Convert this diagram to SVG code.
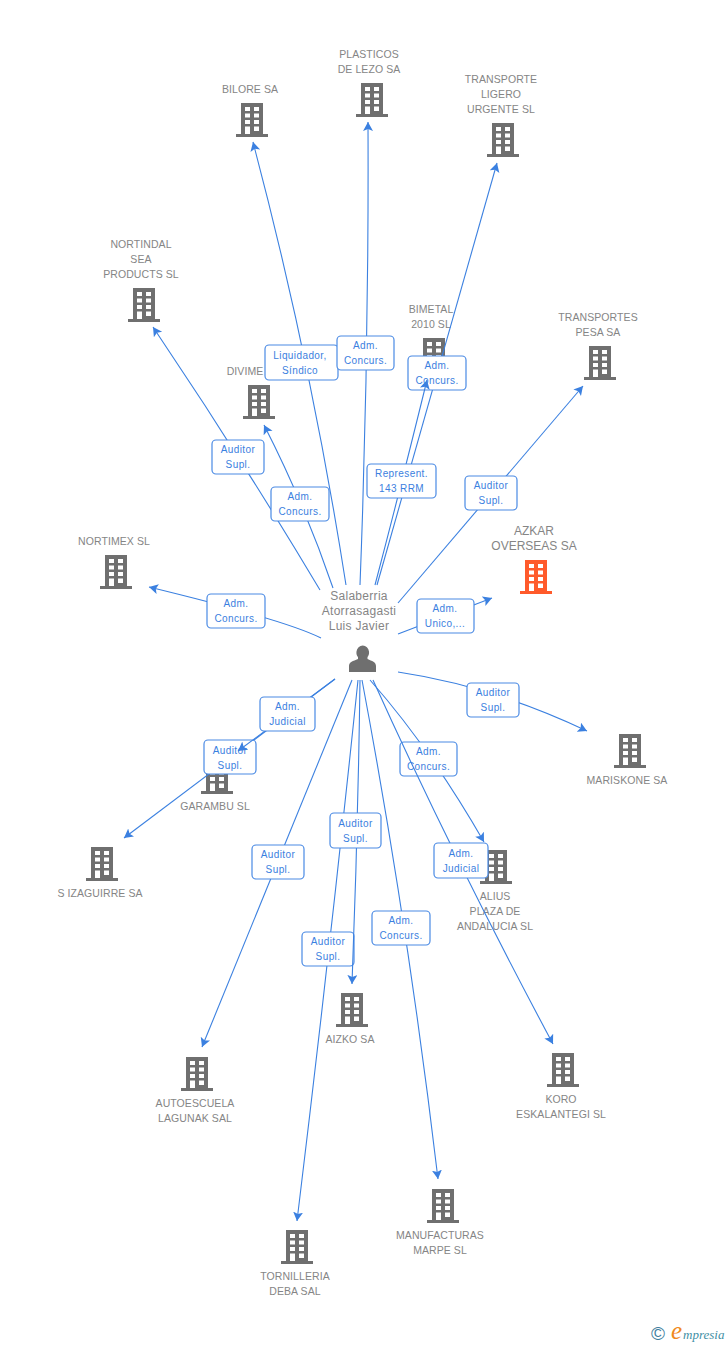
<svg xmlns="http://www.w3.org/2000/svg" xmlns:xlink="http://www.w3.org/1999/xlink" width="728" height="1345" viewBox="0 0 728 1345">
<style>
text{font-family:"Liberation Sans",Arial,sans-serif}
.n{font-size:10.5px;fill:#858585;text-anchor:middle;letter-spacing:.08px}
.a{font-size:12px;fill:#858585;text-anchor:middle}
.p{font-size:12px;fill:#858585;text-anchor:middle;letter-spacing:.3px}
.e{fill:none;stroke:#3b80e0;stroke-width:1.1;marker-end:url(#ah)}
.b{fill:#fff;stroke:#4a8ae4;stroke-width:1.2}
.l{font-size:10px;fill:#3b80e0;text-anchor:middle;letter-spacing:.4px}
</style>
<defs>
<marker id="ah" markerUnits="userSpaceOnUse" markerWidth="12" markerHeight="12" refX="9" refY="5" orient="auto">
<path d="M0 0L9 5L0 10L2 5Z" fill="#3b80e0"/>
</marker>
<g id="bld">
<path d="M-11 0H11V31H16V34H-16V31H-11ZM-7 4V8H-2V4ZM2 4V8H7V4ZM-7 10.500V14.500H-2V10.500ZM2 10.500V14.500H7V10.500ZM-7 17V21H-2V17ZM2 17V21H7V17ZM-7 23.500V31H-2V23.500ZM2 23.500V28H7V23.500Z" fill-rule="evenodd"/>
</g>
</defs>
<rect width="728" height="1345" fill="#fff"/>

<g id="node-bilore" fill="#6f6f6f"><use xlink:href="#bld" x="252" y="103"/><text class="n" x="250" y="93">BILORE SA</text></g>
<g id="node-plasticos" fill="#6f6f6f"><use xlink:href="#bld" x="372" y="83"/><text class="n" x="369" y="58">PLASTICOS</text><text class="n" x="369" y="73">DE LEZO SA</text></g>
<g id="node-transporte" fill="#6f6f6f"><use xlink:href="#bld" x="503" y="123"/><text class="n" x="501" y="83">TRANSPORTE</text><text class="n" x="501" y="98">LIGERO</text><text class="n" x="501" y="113">URGENTE SL</text></g>
<g id="node-nortindal" fill="#6f6f6f"><use xlink:href="#bld" x="144" y="288"/><text class="n" x="141" y="248">NORTINDAL</text><text class="n" x="141" y="263">SEA</text><text class="n" x="141" y="278">PRODUCTS SL</text></g>
<g id="node-divime" fill="#6f6f6f"><use xlink:href="#bld" x="259" y="385"/><text class="n" x="245" y="375">DIVIME</text></g>
<g id="node-bimetal" fill="#6f6f6f"><use xlink:href="#bld" x="434" y="338"/><text class="n" x="431" y="313">BIMETAL</text><text class="n" x="431" y="328">2010 SL</text></g>
<g id="node-pesa" fill="#6f6f6f"><use xlink:href="#bld" x="600" y="346"/><text class="n" x="598" y="321">TRANSPORTES</text><text class="n" x="598" y="336">PESA SA</text></g>
<g id="node-nortimex" fill="#6f6f6f"><use xlink:href="#bld" x="116" y="555"/><text class="n" x="114" y="545">NORTIMEX SL</text></g>
<g id="node-azkar" fill="#ff5a2b"><use xlink:href="#bld" x="536" y="560"/><text class="a" x="534" y="535">AZKAR</text><text class="a" x="534" y="550">OVERSEAS SA</text></g>
<g id="node-mariskone" fill="#6f6f6f"><use xlink:href="#bld" x="630" y="734"/><text class="n" x="627" y="784">MARISKONE SA</text></g>
<g id="node-garambu" fill="#6f6f6f"><use xlink:href="#bld" x="217" y="760"/><text class="n" x="215" y="810">GARAMBU SL</text></g>
<g id="node-izaguirre" fill="#6f6f6f"><use xlink:href="#bld" x="102" y="847"/><text class="n" x="100" y="897">S IZAGUIRRE SA</text></g>
<g id="node-alius" fill="#6f6f6f"><use xlink:href="#bld" x="496" y="850"/><text class="n" x="495" y="900">ALIUS</text><text class="n" x="495" y="915">PLAZA DE</text><text class="n" x="495" y="930">ANDALUCIA SL</text></g>
<g id="node-autoescuela" fill="#6f6f6f"><use xlink:href="#bld" x="197" y="1057"/><text class="n" x="195" y="1107">AUTOESCUELA</text><text class="n" x="195" y="1122">LAGUNAK SAL</text></g>
<g id="node-aizko" fill="#6f6f6f"><use xlink:href="#bld" x="352" y="993"/><text class="n" x="350" y="1043">AIZKO SA</text></g>
<g id="node-koro" fill="#6f6f6f"><use xlink:href="#bld" x="563" y="1053"/><text class="n" x="561" y="1103">KORO</text><text class="n" x="561" y="1118">ESKALANTEGI SL</text></g>
<g id="node-manufacturas" fill="#6f6f6f"><use xlink:href="#bld" x="443" y="1189"/><text class="n" x="440" y="1239">MANUFACTURAS</text><text class="n" x="440" y="1254">MARPE SL</text></g>
<g id="node-tornilleria" fill="#6f6f6f"><use xlink:href="#bld" x="297" y="1230"/><text class="n" x="295" y="1280">TORNILLERIA</text><text class="n" x="295" y="1295">DEBA SAL</text></g>

<g id="node-person">
<text class="p" x="359" y="600">Salaberria</text><text class="p" x="359" y="615">Atorrasagasti</text><text class="p" x="359" y="630">Luis Javier</text>
<path d="M349 672V666C349 662 353 661 358 659V657C356 655 356.500 652 356.500 651.500A6.300 6.800 0 0 1 369 651.500C369 652 369.500 655 367.500 657V659C372 661 376 662 376 666V672Z" fill="#6f6f6f"/>
</g>

<g id="connectors">
<g><path class="e" d="M346 585Q311 361 253 142"/><rect class="b" x="265" y="345" width="73" height="35" rx="4"/><text class="l" x="300" y="359">Liquidador,</text><text class="l" x="300" y="374">Síndico</text></g>
<g><path class="e" d="M360 585Q369 353 368 122"/><rect class="b" x="337" y="336" width="57" height="34" rx="4"/><text class="l" x="365.500" y="349">Adm.</text><text class="l" x="365.500" y="364">Concurs.</text></g>
<g><path class="e" d="M377 585L497 163"/><rect class="b" x="408" y="356" width="58" height="34" rx="4"/><text class="l" x="437" y="369">Adm.</text><text class="l" x="437" y="384">Concurs.</text></g>
<g><path class="e" d="M375 585Q400 490 427 380"/><rect class="b" x="367" y="464" width="69" height="34" rx="4"/><text class="l" x="401.500" y="477">Represent.</text><text class="l" x="401.500" y="492">143 RRM</text></g>
<g><path class="e" d="M398 603L583 386"/><rect class="b" x="465" y="476" width="52" height="34" rx="4"/><text class="l" x="491" y="489">Auditor</text><text class="l" x="491" y="504">Supl.</text></g>
<g><path class="e" d="M320 590Q240 456 153 327"/><rect class="b" x="212" y="440" width="52" height="34" rx="4"/><text class="l" x="238" y="453">Auditor</text><text class="l" x="238" y="468">Supl.</text></g>
<g><path class="e" d="M333 588Q304 503 264 425"/><rect class="b" x="271" y="487" width="58" height="34" rx="4"/><text class="l" x="300" y="500">Adm.</text><text class="l" x="300" y="515">Concurs.</text></g>
<g><path class="e" d="M321 638Q285 620 149 587"/><rect class="b" x="207" y="594" width="58" height="34" rx="4"/><text class="l" x="236" y="607">Adm.</text><text class="l" x="236" y="622">Concurs.</text></g>
<g><path class="e" d="M398 634L492 598"/><rect class="b" x="417" y="599" width="57" height="34" rx="4"/><text class="l" x="445" y="612">Adm.</text><text class="l" x="445" y="627">Unico,...</text></g>
<g><path class="e" d="M398 672Q492 686 587 731"/><rect class="b" x="467" y="683" width="52" height="34" rx="4"/><text class="l" x="493" y="696">Auditor</text><text class="l" x="493" y="711">Supl.</text></g>
<g><path class="e" d="M335 679L124 838"/><rect class="b" x="204" y="740" width="52" height="34" rx="4"/><text class="l" x="230" y="754">Auditor</text><text class="l" x="230" y="769">Supl.</text></g>
<g><path class="e" d="M335 679L238 751"/><rect class="b" x="260" y="697" width="55" height="34" rx="4"/><text class="l" x="287.500" y="710">Adm.</text><text class="l" x="287.500" y="725">Judicial</text></g>
<g><path class="e" d="M352 680L202 1047"/><rect class="b" x="252" y="845" width="52" height="34" rx="4"/><text class="l" x="278" y="858">Auditor</text><text class="l" x="278" y="873">Supl.</text></g>
<g><path class="e" d="M358 680Q330 950 297 1221"/><rect class="b" x="302" y="932" width="52" height="34" rx="4"/><text class="l" x="328" y="945">Auditor</text><text class="l" x="328" y="960">Supl.</text></g>
<g><path class="e" d="M360 680Q358 830 352 984"/><rect class="b" x="330" y="813" width="51" height="35" rx="4"/><text class="l" x="355.500" y="827">Auditor</text><text class="l" x="355.500" y="842">Supl.</text></g>
<g><path class="e" d="M362 680Q408 925 438 1179"/><rect class="b" x="372" y="911" width="58" height="34" rx="4"/><text class="l" x="401" y="924">Adm.</text><text class="l" x="401" y="939">Concurs.</text></g>
<g><path class="e" d="M370 680Q430 748 484 842"/><rect class="b" x="400" y="742" width="57" height="34" rx="4"/><text class="l" x="428.500" y="755">Adm.</text><text class="l" x="428.500" y="770">Concurs.</text></g>
<g><path class="e" d="M373 680Q452 855 553 1044"/><rect class="b" x="434" y="843" width="54" height="35" rx="4"/><text class="l" x="461" y="857">Adm.</text><text class="l" x="461" y="872">Judicial</text></g>
</g>

<g id="logo">
<text x="658" y="1340" font-size="19" fill="#3f7f9f" text-anchor="middle">©</text>
<text x="671" y="1339" font-size="25" font-style="italic" fill="#f08a1d" style="font-family:'Liberation Serif',serif">e</text>
<text x="683" y="1339" font-size="13" font-style="italic" fill="#3f8fa5" style="font-family:'Liberation Serif',serif">mpresia</text>
</g>
</svg>
